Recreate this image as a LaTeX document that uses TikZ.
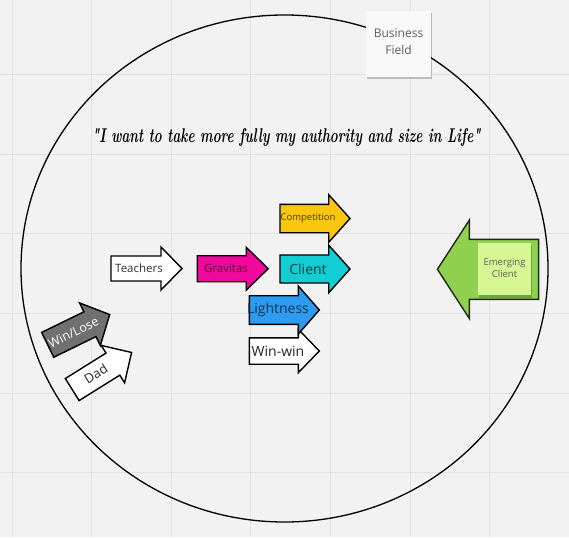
\documentclass[tikz,border=0pt]{standalone}
\usepackage{fontspec}
\setmainfont{Open Sans}
\newfontfamily\quotefont{Latin Modern Roman}
\usetikzlibrary{shadows,calc}
\definecolor{bgcol}{HTML}{F2F2F2}
\definecolor{gridcol}{HTML}{E2E2E2}
\definecolor{gravcol}{HTML}{F0079C}
\definecolor{compcol}{HTML}{FAC710}
\definecolor{clientcol}{HTML}{12CDD4}
\definecolor{lightcol}{HTML}{2D9BF0}
\definecolor{greencol}{HTML}{8FD14F}
\definecolor{notegreen}{HTML}{D5F692}
\definecolor{winlosecol}{HTML}{707070}
\definecolor{notewhite}{HTML}{F9F9F9}
\definecolor{notetext}{HTML}{5F5F5F}
\newcommand{\arrowpoly}[7]{%
  \path[#1, shift={#2}, rotate=#3] (-#4,-#5) -- ({#4-#7},-#5) -- ({#4-#7},-#6) -- (#4,0) -- ({#4-#7},#6) -- ({#4-#7},#5) -- (-#4,#5) -- cycle;}
\tikzset{
  arrowline/.style={draw=black, line width=1.4pt, line join=miter},
  gridline/.style={draw=gridcol, line width=0.8pt},
  lbl/.style={inner sep=0pt},
  stickynote/.style={inner sep=0pt, drop shadow={shadow xshift=0.5pt, shadow yshift=-2.5pt, opacity=0.22, fill=black}},
}
\begin{document}
\begin{tikzpicture}[x=1pt,y=-1pt]
\path[use as bounding box, fill=bgcol] (0,0) rectangle (569,537);
% grid
\foreach \gx in {12,91.6,171.2,250.8,330.4,410,489.6} \draw[gridline] (\gx,0) -- (\gx,537);
\foreach \gy in {74.6,154.2,233.8,313.4,393,472.6} \draw[gridline] (0,\gy) -- (569,\gy);
% field circle
\draw[line width=1.3pt] (284.5,268.5) ellipse [x radius=263.5pt, y radius=253.5pt];
% quote
\node[lbl, anchor=base] (quote) at (286.5,142.5) {\resizebox{388pt}{14pt}{\quotefont\bfseries\itshape "I want to take more fully my authority and size in Life"}};
% Business field note
\node[stickynote, fill=notewhite, minimum width=65pt, minimum height=66pt] (bnote) at (398.5,44) {};
\node[lbl, align=center, text=notetext, font=\fontsize{12}{17}\selectfont] (btext) at (398.5,41.5) {Business\\Field};
% arrows
\arrowpoly{arrowline, fill=white}{(146.5,268.5)}{0}{35.5}{12.5}{21.5}{21}
\node[lbl, text=black!80, font=\fontsize{11.5}{13}\selectfont] (teachers) at (139,268.5) {Teachers};
\arrowpoly{arrowline, fill=gravcol}{(232.7,268.7)}{0}{35.5}{13}{21.4}{22}
\node[lbl, text=black!65!gravcol, font=\fontsize{11.5}{13}\selectfont] (gravitas) at (226,268.7) {Gravitas};
\arrowpoly{arrowline, fill=compcol}{(315,218.5)}{0}{35}{14.2}{23.8}{21.3}
\node[lbl, text=black!70!compcol, font=\fontsize{9.5}{11}\selectfont] (competition) at (308,218.5) {Competition};
\arrowpoly{arrowline, fill=clientcol}{(315,269)}{0}{35}{14}{23.8}{21.3}
\node[lbl, text=black!70!clientcol, font=\fontsize{14}{16}\selectfont] (client) at (308,269) {Client};
\arrowpoly{arrowline, fill=white}{(284.3,351)}{0}{35}{13.2}{21.7}{21}
\node[lbl, text=black!85, font=\fontsize{14}{16}\selectfont] (winwin) at (278,351) {Win-win};
\arrowpoly{arrowline, fill=lightcol}{(284.3,310)}{0}{35}{14.3}{24}{21}
\node[lbl, text=black!65!lightcol, font=\fontsize{14}{16}\selectfont] (lightness) at (278,309.5) {Lightness};
\arrowpoly{arrowline, fill=winlosecol}{(78.7,329.7)}{26}{34.5}{13.8}{23.7}{22}
\node[lbl, text=white, rotate=26, font=\fontsize{12.5}{14}\selectfont] (winlose) at (73.5,332.5) {Win/Lose};
\arrowpoly{arrowline, fill=white}{(101.9,371)}{32}{35}{13}{22}{22}
\node[lbl, text=black!85, rotate=32, font=\fontsize{13}{15}\selectfont] (dad) at (95.8,374) {Dad};
% emerging client
\arrowpoly{draw=black!80!greencol, line width=1.4pt, fill=greencol}{(488,269.3)}{180}{50.6}{30}{49.3}{32}
\node[stickynote, fill=notegreen, minimum width=53pt, minimum height=52pt] (emnote) at (504.5,269) {};
\node[lbl, align=center, text=notetext, font=\fontsize{9.5}{12}\selectfont] (emtext) at (504.5,268) {Emerging\\Client};
\end{tikzpicture}
\end{document}
